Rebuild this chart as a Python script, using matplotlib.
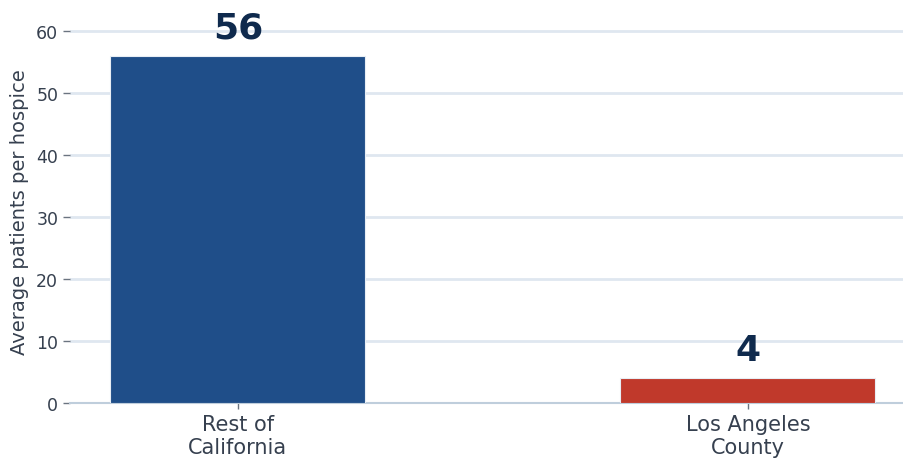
import matplotlib
matplotlib.use("Agg")
import matplotlib.pyplot as plt

# data
regions = ["Rest of\nCalifornia", "Los Angeles\nCounty"]
avg_patients = [56, 4]
bar_colors = ["#1f4e89", "#c0392b"]

text_color = "#36404f"

fig = plt.figure(figsize=(9.04, 4.6), dpi=100)
ax = fig.add_axes([70 / 904, 1 - 404 / 460, 1 - 70 / 904, (404 - 19.6) / 460])

x = range(len(regions))
bars = ax.bar(x, avg_patients, width=0.5, color=bar_colors,
              edgecolor="#e8eef5", linewidth=0.8, zorder=3)

# value labels above bars
for b, v in zip(bars, avg_patients):
    ax.annotate(str(v), (b.get_x() + b.get_width() / 2, v),
                xytext=(0, 8), textcoords="offset points",
                ha="center", va="bottom", fontsize=26, fontweight="bold",
                color="#0f2a4d")

ax.set_xlim(-0.329, 1.306)
ax.set_ylim(0, 62)
ax.set_yticks(range(0, 61, 10))
ax.set_xticks(list(x))
ax.set_xticklabels(regions, fontsize=15, color=text_color, linespacing=1.15)
ax.set_ylabel("Average patients per hospice", fontsize=14, color=text_color,
              labelpad=5)

ax.grid(axis="y", color="#dfe7f0", linewidth=2, zorder=0)
ax.set_axisbelow(True)
for side in ["top", "right", "left"]:
    ax.spines[side].set_visible(False)
ax.spines["bottom"].set_color("#bfcedc")
ax.spines["bottom"].set_linewidth(1.5)

ax.tick_params(axis="y", labelsize=12.5, labelcolor=text_color, color="#6b7480",
               length=5, width=1)
ax.tick_params(axis="x", color="#6b7480", length=4, width=1, pad=4)

fig.savefig("out.png", dpi=100)
